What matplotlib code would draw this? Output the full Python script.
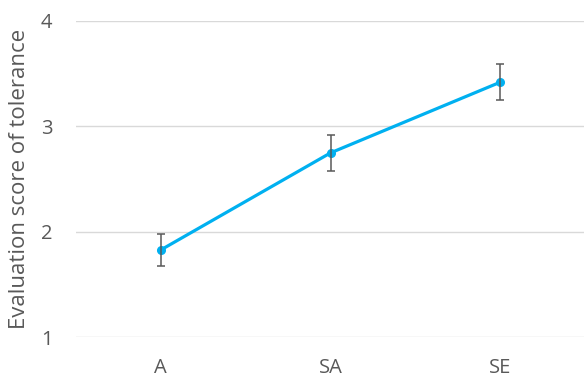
import matplotlib
matplotlib.use("Agg")
import matplotlib.pyplot as plt

groups = ["A", "SA", "SE"]
scores = [1.83, 2.75, 3.42]
errors = [0.15, 0.17, 0.17]
yticks = [1, 2, 3, 4]

plt.rcParams["font.family"] = ["Open Sans", "DejaVu Sans"]

fig = plt.figure(figsize=(5.84, 3.79), dpi=100)
ax = fig.add_axes([0.130, 0.1095, 0.872, 0.8351])

x = list(range(len(groups)))
ax.plot(x, scores, color="#00B0F0", linewidth=2.3, marker="o", markersize=5.5,
        solid_capstyle="round", zorder=3)
ax.errorbar(x, scores, yerr=errors, fmt="none", ecolor="#595959",
            elinewidth=1.1, capsize=2.8, capthick=1.1, zorder=4)

ax.set_xlim(-0.5, len(groups) - 0.5)
ax.set_ylim(1, 4)
ax.set_yticks(yticks)
ax.set_xticks(x)
ax.set_xticklabels(groups)

ax.grid(axis="y", color="#D9D9D9", linewidth=1.0)
ax.set_axisbelow(True)
for s in ax.spines.values():
    s.set_visible(False)
ax.tick_params(axis="both", length=0, labelsize=14.5, colors="#595959")
ax.tick_params(axis="y", pad=17)
ax.tick_params(axis="x", pad=14.5)

ax.set_ylabel("Evaluation score of tolerance", fontsize=16, color="#595959", labelpad=8)

fig.savefig("out.png", dpi=100)
